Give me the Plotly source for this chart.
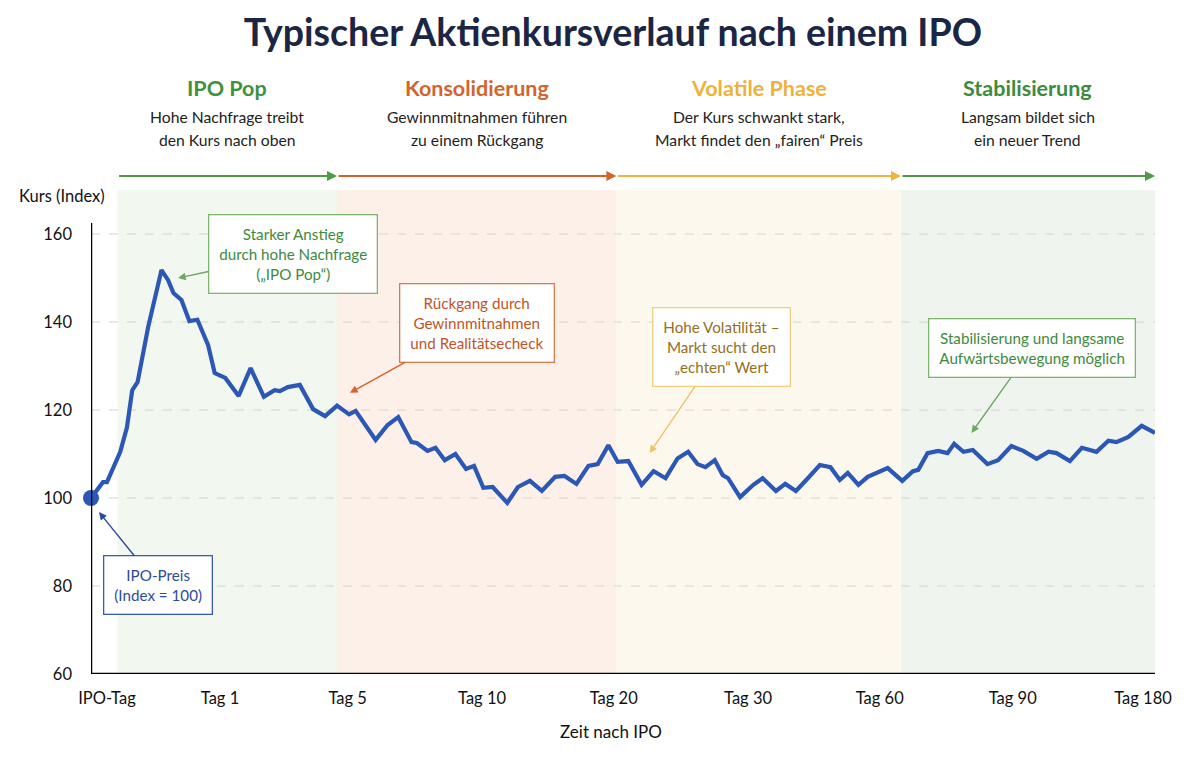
import plotly.graph_objects as go

# Zeitachse in "Abschnitten" (0 = IPO-Tag ... 8 = Ende), Kurs als Index (IPO = 100)
zeit = [0, 0.09, 0.12, 0.22, 0.27, 0.31, 0.35, 0.43, 0.53, 0.58, 0.62, 0.68, 0.74, 0.80,
        0.88, 0.93, 1.01, 1.11, 1.20, 1.30, 1.38, 1.42, 1.48, 1.57, 1.67, 1.76, 1.85, 1.94,
        1.99, 2.05, 2.14, 2.23, 2.31, 2.41, 2.45, 2.53, 2.59, 2.66, 2.74, 2.82, 2.88, 2.95,
        3.02, 3.13, 3.21, 3.30, 3.39, 3.49, 3.56, 3.65, 3.74, 3.81, 3.89, 3.96, 4.04, 4.14,
        4.23, 4.32, 4.41, 4.49, 4.56, 4.62, 4.69, 4.75, 4.79, 4.88, 4.98, 5.05, 5.15, 5.22,
        5.30, 5.39, 5.48, 5.56, 5.63, 5.69, 5.77, 5.84, 5.91, 5.99, 6.10, 6.18, 6.22, 6.29,
        6.37, 6.44, 6.49, 6.56, 6.63, 6.74, 6.82, 6.92, 7.01, 7.11, 7.20, 7.26, 7.36, 7.45,
        7.56, 7.65, 7.71, 7.80, 7.90, 8.00]
kurs = [100, 103.6, 103.6, 110.5, 116, 124.5, 126.3, 138.9, 151.8, 149.5, 146.6, 145, 140.2,
        140.5, 134.8, 128.4, 127.3, 123.2, 129.5, 123, 124.5, 124.3, 125.2, 125.7, 120.2, 118.6,
        121, 119, 119.8, 117.3, 113.2, 116.6, 118.4, 112.7, 112.5, 110.7, 111.4, 108.6, 110,
        106.6, 107.3, 102.3, 102.5, 98.9, 102.5, 103.9, 101.6, 104.8, 105, 103.2, 107.3, 107.7,
        112, 108.2, 108.4, 103, 106.1, 104.5, 109, 110.5, 107.7, 107, 108.6, 105.2, 104.5,
        100.2, 103, 104.5, 101.6, 103.2, 101.6, 104.5, 107.5, 107, 104.1, 105.7, 103, 104.8,
        105.7, 106.8, 103.9, 106.1, 106.4, 110.2, 110.7, 110.2, 112.3, 110.5, 110.9, 107.7,
        108.6, 111.8, 110.7, 108.9, 110.5, 110.2, 108.4, 111.4, 110.5, 113, 112.7, 113.9,
        116.4, 114.8]

tick_pos = [0.12, 0.97, 1.93, 2.94, 3.93, 4.94, 5.93, 6.93, 7.91]
tick_text = ["IPO-Tag", "Tag 1", "Tag 5", "Tag 10", "Tag 20", "Tag 30", "Tag 60", "Tag 90", "Tag 180"]

phasen = ["IPO Pop", "Konsolidierung", "Volatile Phase", "Stabilisierung"]
phasen_text = [("Hohe Nachfrage treibt", "den Kurs nach oben"),
               ("Gewinnmitnahmen führen", "zu einem Rückgang"),
               ("Der Kurs schwankt stark,", "Markt findet den „fairen“ Preis"),
               ("Langsam bildet sich", "ein neuer Trend")]
phasen_grenzen = [0.20, 1.85, 3.95, 6.09, 8.0]
phasen_farbe = ["#4f9a45", "#d6612b", "#f0b43c", "#4f9a45"]
phasen_titel_farbe = ["#3f9140", "#d2642c", "#efb13a", "#3d8b3d"]
phasen_fuellung = ["#f2f7ef", "#fcf0e9", "#fdf8ed", "#f0f4ee"]

FONT = "Lato"
NAVY = "#1b2544"
BLUE = "#2b58b5"

fig = go.Figure()

# Phasen-Hintergründe
for i in range(4):
    fig.add_shape(type="rect", xref="x", yref="paper",
                  x0=phasen_grenzen[i], x1=phasen_grenzen[i + 1], y0=0, y1=1,
                  fillcolor=phasen_fuellung[i], line_width=0, layer="below")

# Gitterlinien
for v in [80, 100, 120, 140, 160]:
    fig.add_shape(type="line", xref="paper", yref="y", x0=0, x1=1, y0=v, y1=v,
                  line=dict(color="#d3d3d3", width=1.2, dash="dash"), layer="below")

# Achsen
fig.add_shape(type="line", xref="x", yref="y", x0=0, x1=0, y0=60, y1=162.5,
              line=dict(color="black", width=2.5))
fig.add_shape(type="line", xref="x", yref="y", x0=0, x1=8, y0=60, y1=60,
              line=dict(color="black", width=2.5))

fig.add_trace(go.Scatter(x=zeit, y=kurs, mode="lines",
                         line=dict(color=BLUE, width=4.2), showlegend=False, cliponaxis=False))
fig.add_trace(go.Scatter(x=[zeit[0]], y=[kurs[0]], mode="markers",
                         marker=dict(color=BLUE, size=16), showlegend=False, cliponaxis=False))

# Phasen-Köpfe und Pfeile
for i in range(4):
    mitte = (phasen_grenzen[i] + phasen_grenzen[i + 1]) / 2
    fig.add_annotation(x=mitte, y=1.211, xref="x", yref="paper", yanchor="middle",
                       text="<b>" + phasen[i] + "</b>", showarrow=False,
                       font=dict(family=FONT, size=21.5, color=phasen_titel_farbe[i]))
    fig.add_annotation(x=mitte, y=1.151, xref="x", yref="paper", yanchor="middle",
                       text=phasen_text[i][0], showarrow=False,
                       font=dict(family=FONT, size=15.7, color="#222222"))
    fig.add_annotation(x=mitte, y=1.103, xref="x", yref="paper", yanchor="middle",
                       text=phasen_text[i][1], showarrow=False,
                       font=dict(family=FONT, size=15.7, color="#222222"))
    fig.add_annotation(x=phasen_grenzen[i + 1], y=1.029, xref="x", yref="paper",
                       ax=phasen_grenzen[i], ay=0, axref="x", ayref="pixel", text="",
                       showarrow=True, arrowhead=2, arrowsize=1, arrowwidth=2,
                       arrowcolor=phasen_farbe[i], standoff=0, startstandoff=0)

# Hinweis-Kästen
hinweise = [
    (0.654, 150, 1.519, 155.5, "Starker Anstieg<br>durch hohe Nachfrage<br>(„IPO Pop“)",
     "#3e8a3c", "#7fb56f", "#6fa864"),
    (1.947, 123.9, 2.90, 139.8, "Rückgang durch<br>Gewinnmitnahmen<br>und Realitätsecheck",
     "#c2531f", "#d97a4a", "#d9602a"),
    (4.20, 110.2, 4.744, 134.3, "Hohe Volatilität –<br>Markt sucht den<br>„echten“ Wert",
     "#94701e", "#f0cf80", "#eec369"),
    (6.62, 114.8, 7.075, 134.1, "Stabilisierung und langsame<br>Aufwärtsbewegung möglich",
     "#3e8a3c", "#7fb56f", "#6fa864"),
    (0.06, 96.8, 0.504, 80.2, "IPO-Preis<br>(Index = 100)",
     "#2c4b98", "#3b5cae", "#2c4b98"),
]
for x, y, ax, ay, text, farbe, rand, pfeil in hinweise:
    fig.add_annotation(x=x, y=y, ax=ax, ay=ay, xref="x", yref="y", axref="x", ayref="y",
                       text=text, showarrow=True, arrowhead=2, arrowsize=1.1, arrowwidth=1.4,
                       arrowcolor=pfeil, bgcolor="white", bordercolor=rand, borderwidth=1.3,
                       borderpad=10, align="center",
                       font=dict(family=FONT, size=15.2, color=farbe))

# Achsentitel
fig.add_annotation(x=-0.027, y=0.988, xref="paper", yref="paper", xanchor="center",
                   yanchor="middle", text="Kurs (Index)", showarrow=False,
                   font=dict(family=FONT, size=16.5, color="#111111"))
fig.add_annotation(x=0.489, y=-0.118, xref="paper", yref="paper", xanchor="center",
                   yanchor="middle", text="Zeit nach IPO", showarrow=False,
                   font=dict(family=FONT, size=17, color="#111111"))

fig.update_layout(
    width=1200, height=771,
    paper_bgcolor="white", plot_bgcolor="white",
    margin=dict(l=83, r=53, t=182, b=105),
    title=dict(text="<b>Typischer Aktienkursverlauf nach einem IPO</b>", x=0.504, xanchor="center",
               y=0.968, yanchor="middle", font=dict(family=FONT, size=37.5, color=NAVY)),
    font=dict(family=FONT, color="#111111"),
    xaxis=dict(range=[0, 8], tickvals=tick_pos, ticktext=tick_text, showgrid=False,
               zeroline=False, showline=False, ticks="", ticklabelstandoff=12,
               tickfont=dict(family=FONT, size=16.5, color="#111111")),
    yaxis=dict(range=[60, 170], tickvals=[60, 80, 100, 120, 140, 160], showgrid=False,
               zeroline=False, showline=False, ticks="", ticklabelstandoff=18,
               tickfont=dict(family=FONT, size=16.5, color="#111111")),
)

fig.write_html("out.html")
